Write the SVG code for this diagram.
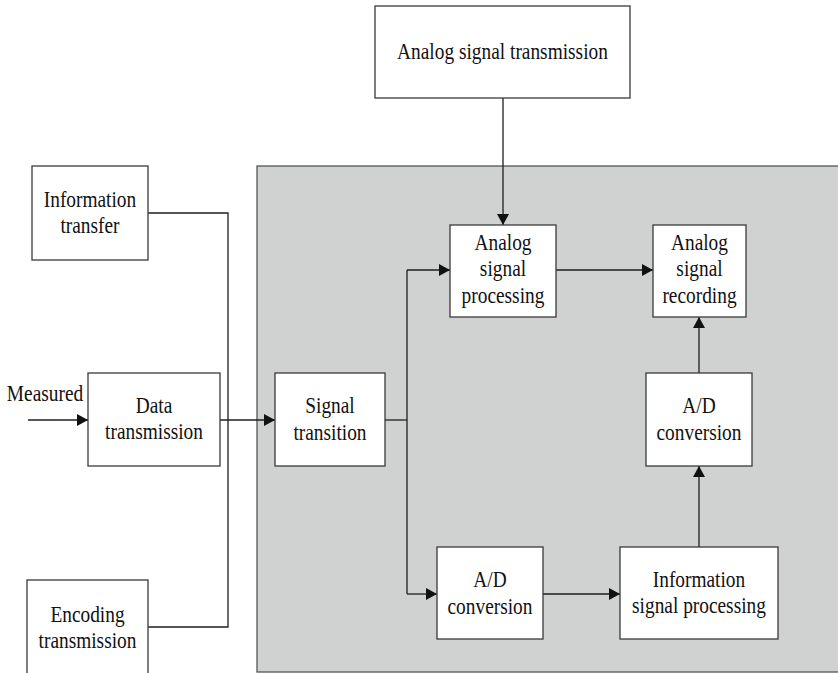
<svg xmlns="http://www.w3.org/2000/svg" width="838" height="673" viewBox="0 0 838 673">
  <style>
    .box { fill: #ffffff; stroke: #3a3a3a; stroke-width: 1.3; }
    .panel { fill: #d0d1d1; stroke: #555555; stroke-width: 1.3; }
    .wire { fill: none; stroke: #1e1e1e; stroke-width: 1.3; }
    .lbl { font-family: "Liberation Serif", "Times New Roman", serif; font-size: 24px; fill: #111111; text-anchor: middle; }
  </style>
  <defs>
    <marker id="arrow" markerUnits="userSpaceOnUse" markerWidth="12" markerHeight="12" refX="11" refY="6" orient="auto">
      <path d="M0,0 L11,6 L0,12 Z" fill="#111111"/>
    </marker>
  </defs>

  <rect width="838" height="673" fill="#ffffff"/>

  <!-- shaded processing area -->
  <rect class="panel" x="257" y="166" width="590" height="506"/>

  <!-- connectors -->
  <g id="connectors">
    <line class="wire" x1="28" y1="420" x2="88" y2="420" marker-end="url(#arrow)"/>
    <polyline class="wire" points="148,213 228,213 228,627 148,627"/>
    <line class="wire" x1="220" y1="420" x2="275" y2="420" marker-end="url(#arrow)"/>
    <line class="wire" x1="385" y1="420" x2="407" y2="420"/>
    <line class="wire" x1="407" y1="270" x2="407" y2="594"/>
    <line class="wire" x1="407" y1="270" x2="450" y2="270" marker-end="url(#arrow)"/>
    <line class="wire" x1="407" y1="594" x2="437" y2="594" marker-end="url(#arrow)"/>
    <line class="wire" x1="503" y1="98" x2="503" y2="225" marker-end="url(#arrow)"/>
    <line class="wire" x1="556" y1="270" x2="653" y2="270" marker-end="url(#arrow)"/>
    <line class="wire" x1="543" y1="594" x2="620" y2="594" marker-end="url(#arrow)"/>
    <line class="wire" x1="699" y1="547" x2="699" y2="466" marker-end="url(#arrow)"/>
    <line class="wire" x1="699" y1="373" x2="699" y2="317" marker-end="url(#arrow)"/>
  </g>

  <!-- input label -->
  <g id="measured">
    <text class="lbl" x="45" y="401" transform="matrix(0.807 0 0 1 8.685 0)">Measured</text>
  </g>

  <g id="analog-signal-transmission">
    <rect class="box" x="375" y="6" width="255" height="92"/>
    <text class="lbl" x="502.5" y="59" transform="matrix(0.807 0 0 1 96.98 0)">Analog signal transmission</text>
  </g>

  <g id="information-transfer">
    <rect class="box" x="32" y="166" width="116" height="94"/>
    <g transform="matrix(0.807 0 0 1 17.37 0)">
      <text class="lbl" x="90" y="207">Information</text>
      <text class="lbl" x="90" y="233">transfer</text>
    </g>
  </g>

  <g id="data-transmission">
    <rect class="box" x="88" y="373" width="132" height="93"/>
    <g transform="matrix(0.807 0 0 1 29.72 0)">
      <text class="lbl" x="154" y="413">Data</text>
      <text class="lbl" x="154" y="439">transmission</text>
    </g>
  </g>

  <g id="encoding-transmission">
    <rect class="box" x="27" y="580" width="121" height="100"/>
    <g transform="matrix(0.807 0 0 1 16.89 0)">
      <text class="lbl" x="87.5" y="622">Encoding</text>
      <text class="lbl" x="87.5" y="648">transmission</text>
    </g>
  </g>

  <g id="signal-transition">
    <rect class="box" x="275" y="373" width="110" height="93"/>
    <g transform="matrix(0.807 0 0 1 63.69 0)">
      <text class="lbl" x="330" y="413">Signal</text>
      <text class="lbl" x="330" y="440">transition</text>
    </g>
  </g>

  <g id="analog-signal-processing">
    <rect class="box" x="450" y="225" width="106" height="92"/>
    <g transform="matrix(0.807 0 0 1 97.08 0)">
      <text class="lbl" x="503" y="250">Analog</text>
      <text class="lbl" x="503" y="276">signal</text>
      <text class="lbl" x="503" y="303">processing</text>
    </g>
  </g>

  <g id="analog-signal-recording">
    <rect class="box" x="653" y="225" width="93" height="92"/>
    <g transform="matrix(0.807 0 0 1 135.0 0)">
      <text class="lbl" x="699.5" y="250">Analog</text>
      <text class="lbl" x="699.5" y="276">signal</text>
      <text class="lbl" x="699.5" y="303">recording</text>
    </g>
  </g>

  <g id="ad-conversion-upper">
    <rect class="box" x="646" y="373" width="106" height="93"/>
    <g transform="matrix(0.807 0 0 1 134.91 0)">
      <text class="lbl" x="699" y="413">A/D</text>
      <text class="lbl" x="699" y="440">conversion</text>
    </g>
  </g>

  <g id="ad-conversion-lower">
    <rect class="box" x="437" y="547" width="106" height="92"/>
    <g transform="matrix(0.807 0 0 1 94.57 0)">
      <text class="lbl" x="490" y="587">A/D</text>
      <text class="lbl" x="490" y="614">conversion</text>
    </g>
  </g>

  <g id="information-signal-processing">
    <rect class="box" x="620" y="547" width="158" height="92"/>
    <g transform="matrix(0.807 0 0 1 134.91 0)">
      <text class="lbl" x="699" y="587">Information</text>
      <text class="lbl" x="699" y="613">signal processing</text>
    </g>
  </g>
</svg>
